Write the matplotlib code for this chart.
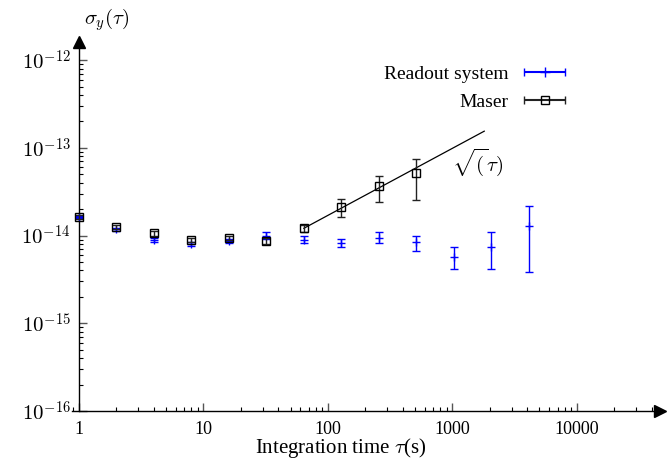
import numpy as np
import matplotlib
matplotlib.use('Agg')
import matplotlib.pyplot as plt
from matplotlib.ticker import FixedLocator, FixedFormatter, LogLocator, NullFormatter
from matplotlib.legend_handler import HandlerErrorbar

plt.rcParams['font.family'] = ['Liberation Serif', 'DejaVu Serif']
plt.rcParams['mathtext.fontset'] = 'cm'

#Data
tau_readout = [1, 2, 4, 8, 16, 32, 64, 128, 256, 512, 1024, 2048, 4096]
sig_readout = [1.63e-14, 1.18e-14, 8.9e-15, 8.1e-15, 8.7e-15, 1.0e-14, 9.0e-15,
               8.2e-15, 9.5e-15, 8.5e-15, 5.75e-15, 7.5e-15, 1.29e-14]
sig_readout_lo = [0.06e-14, 0.05e-14, 0.5e-15, 0.4e-15, 0.4e-15, 0.09e-14, 0.8e-15,
                  0.85e-15, 1.3e-15, 1.8e-15, 1.6e-15, 3.3e-15, 0.91e-14]
sig_readout_hi = [0.06e-14, 0.05e-14, 0.5e-15, 0.4e-15, 0.4e-15, 0.09e-14, 0.8e-15,
                  0.9e-15, 1.4e-15, 1.5e-15, 1.7e-15, 3.4e-15, 0.90e-14]

tau_maser = [1, 2, 4, 8, 16, 32, 64, 128, 256, 512]
sig_maser = [1.64e-14, 1.25e-14, 1.06e-14, 8.9e-15, 9.3e-15, 8.7e-15, 1.21e-14,
             2.14e-14, 3.68e-14, 5.13e-14]
sig_maser_lo = [0.08e-14, 0.06e-14, 0.06e-14, 0.5e-15, 0.5e-15, 0.6e-15, 0.12e-14,
                0.50e-14, 1.24e-14, 2.58e-14]
sig_maser_hi = [0.08e-14, 0.06e-14, 0.06e-14, 0.5e-15, 0.5e-15, 0.6e-15, 0.12e-14,
                0.47e-14, 1.14e-14, 2.34e-14]

#Guide line labelled sqrt(tau)
fit_tau = [64, 1800]
fit_sig = [1.21e-14, 1.55e-13]

xticks = [1, 10, 100, 1000, 10000]
xtick_labels = ['1', '10', '100', '1000', '10000']
yticks = [1e-16, 1e-15, 1e-14, 1e-13, 1e-12]
ytick_labels = [r'$10^{-16}$', r'$10^{-15}$', r'$10^{-14}$', r'$10^{-13}$', r'$10^{-12}$']

###################################################################################################
fig = plt.figure(figsize=(6.67, 4.62), dpi=100)
W, H = 667, 462
ax = fig.add_axes([72/W, (H-411)/H, (660-72)/W, (411-42)/H])
ax.set_xscale('log')
ax.set_yscale('log')
ax.set_xlim(10**-0.0562, 10**4.667)
ax.set_ylim(1e-16, 10**-11.793)

blue = '#0000ff'
ax.errorbar(tau_readout, sig_readout, yerr=[sig_readout_lo, sig_readout_hi], fmt='+',
            color=blue, ecolor=blue, ms=6, mew=1, capsize=3, elinewidth=1, zorder=3)
ax.errorbar(tau_maser, sig_maser, yerr=[sig_maser_lo, sig_maser_hi], fmt='s',
            mfc='none', mec='black', ms=6, mew=1, ecolor='#222222', capsize=3,
            elinewidth=1, zorder=4)
ax.plot(fit_tau, fit_sig, color='black', lw=0.9, zorder=2)
ax.text(1600, 6.9e-14, r'$\sqrt{(}\tau)$', fontsize=15, ha='center', va='center')

#Legend proxies with horizontal bars
h1 = ax.errorbar([np.nan], [np.nan], xerr=[1], fmt='+', color=blue, ms=7, capsize=3,
                 label='Readout system')
h2 = ax.errorbar([np.nan], [np.nan], xerr=[1], fmt='s', mfc='none', mec='black', ms=6,
                 color='#222222', capsize=3, label='Maser')
ax.legend(handles=[h1, h2], loc='upper right', bbox_to_anchor=(565/W, 1 - 65/H),
          bbox_transform=fig.transFigure, frameon=False, borderpad=0, borderaxespad=0,
          markerfirst=False, fontsize=14, handlelength=2.1, handletextpad=0.8,
          labelspacing=0.55, handler_map={type(h1): HandlerErrorbar(xerr_size=1.05)})

#Axes look
for s in ['top', 'right']:
    ax.spines[s].set_visible(False)
ax.spines['left'].set_position(('data', 1))
ax.spines['left'].set_bounds(1e-16, 10**-11.793)
ax.spines['left'].set_linewidth(1)
ax.spines['bottom'].set_linewidth(1)
ax.plot(1, 0, '>k', ms=8, transform=ax.transAxes, clip_on=False)
ax.plot(1, 1, '^k', ms=8, transform=ax.get_xaxis_transform(), clip_on=False)

ax.xaxis.set_major_locator(FixedLocator(xticks))
ax.xaxis.set_major_formatter(FixedFormatter(xtick_labels))
ax.yaxis.set_major_locator(FixedLocator(yticks))
ax.yaxis.set_major_formatter(FixedFormatter(ytick_labels))
ax.xaxis.set_minor_locator(LogLocator(base=10, subs=np.arange(2, 10), numticks=20))
ax.yaxis.set_minor_locator(LogLocator(base=10, subs=np.arange(2, 10), numticks=20))
ax.xaxis.set_minor_formatter(NullFormatter())
ax.yaxis.set_minor_formatter(NullFormatter())
ax.tick_params(which='major', direction='in', length=6, width=1, color='#555555')
ax.tick_params(which='minor', direction='in', length=3, width=0.8)
ax.tick_params(axis='x', labelsize=13, pad=7)
ax.tick_params(axis='y', labelsize=15, pad=6)

fig.text(341/W, 1 - 448/H, r'Integration time $\tau$(s)', fontsize=15, ha='center', va='center')
fig.text(107/W, 1 - 20/H, r'$\sigma_y(\tau)$', fontsize=15, ha='center', va='center')

plt.savefig('out.png', dpi=100)
